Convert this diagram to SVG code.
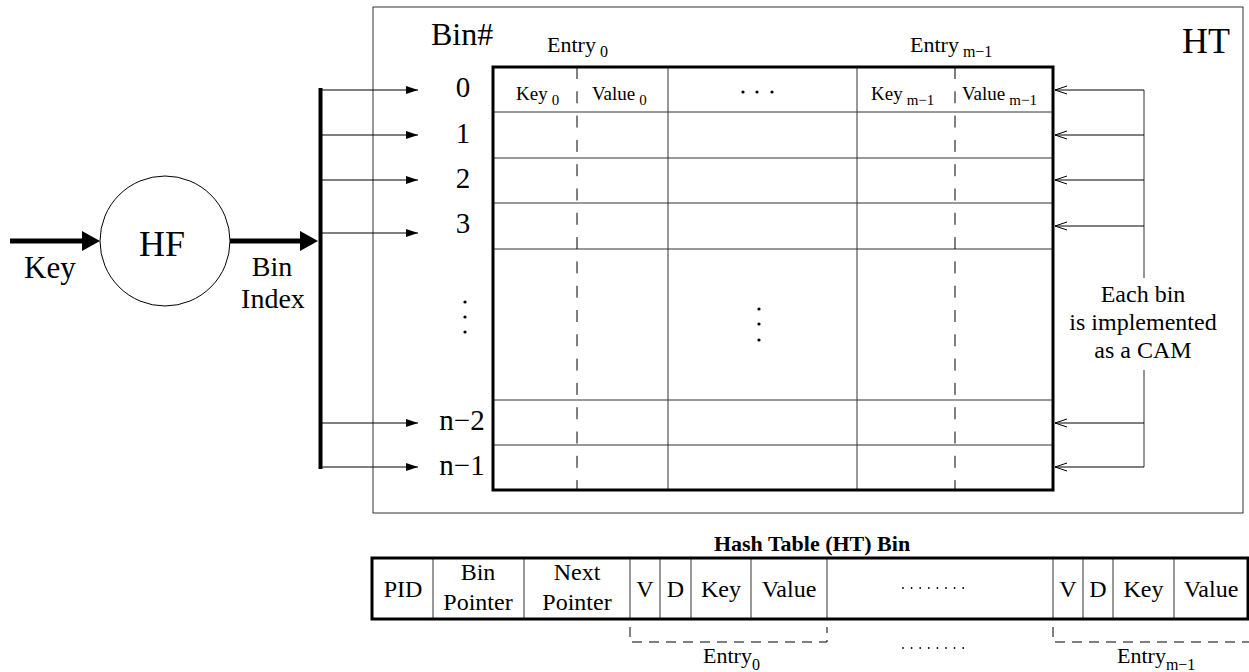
<svg xmlns="http://www.w3.org/2000/svg" width="1249" height="672" viewBox="0 0 1249 672" font-family="'Liberation Serif', 'Times New Roman', serif">
  <defs>
    <style>
      text { font-family: "Liberation Serif", "Times New Roman", serif; fill: #000; }
      .thin { stroke: #000; stroke-width: 1; fill: none; }
      .grid { stroke: #333; stroke-width: 1; fill: none; }
      .frame { stroke: #000; stroke-width: 3; fill: none; }
      .dash { stroke: #000; stroke-width: 1; stroke-dasharray: 12 12.3; fill: none; }
      .bdash { stroke: #000; stroke-width: 1; stroke-dasharray: 10 7; fill: none; }
      .bus { stroke: #000; stroke-width: 4; fill: none; }
      .fat { stroke: #000; stroke-width: 5; fill: none; }
      .dot { fill: #000; }
      .lbl { font-size: 31px; }
      .lbl2 { font-size: 28px; text-anchor: middle; }
      .num { font-size: 29px; text-anchor: middle; }
      .cell { font-size: 19px; }
      .sub { font-size: 15px; }
      .ent { font-size: 22px; }
      .esub { font-size: 16px; }
      .note { font-size: 24px; text-anchor: middle; }
      .fld { font-size: 24px; text-anchor: middle; }
      .title { font-size: 22px; font-weight: bold; text-anchor: middle; }
    </style>
    <marker id="ah" markerUnits="userSpaceOnUse" markerWidth="12" markerHeight="8" refX="12" refY="4" orient="auto">
      <path d="M0,0 L12,4 L0,8 z" fill="#000"/>
    </marker>
    <marker id="ahBig" markerUnits="userSpaceOnUse" markerWidth="18" markerHeight="20" refX="8" refY="10" orient="auto">
      <path d="M0,0 L18,10 L0,20 z" fill="#000"/>
    </marker>
    <marker id="ahOpen" markerUnits="userSpaceOnUse" markerWidth="14" markerHeight="10" refX="13" refY="5" orient="auto">
      <path d="M1,1 L13,5 L1,9" fill="none" stroke="#000" stroke-width="1"/>
    </marker>
  </defs>

  <rect width="1249" height="672" fill="#fff"/>

  <!-- hash table enclosure -->
  <g id="ht-box">
    <rect class="grid" x="373" y="7" width="870" height="506"/>
    <text x="1182" y="53" font-size="36">HT</text>
    <text x="431" y="45" font-size="32">Bin#</text>
    <text class="ent" x="547" y="52">Entry<tspan class="esub" dx="4" dy="5">0</tspan></text>
    <text class="ent" x="910" y="52">Entry<tspan class="esub" dx="4" dy="5">m−1</tspan></text>
  </g>

  <!-- bin array: n rows of m entries -->
  <g id="ht-table">
    <g class="grid">
      <line x1="493" y1="112" x2="1053" y2="112"/>
      <line x1="493" y1="158" x2="1053" y2="158"/>
      <line x1="493" y1="203" x2="1053" y2="203"/>
      <line x1="493" y1="249" x2="1053" y2="249"/>
      <line x1="493" y1="400" x2="1053" y2="400"/>
      <line x1="493" y1="445" x2="1053" y2="445"/>
      <line x1="668" y1="67" x2="668" y2="490"/>
      <line x1="857" y1="67" x2="857" y2="490"/>
    </g>
    <line class="dash" x1="577" y1="67" x2="577" y2="490"/>
    <line class="dash" x1="955" y1="67" x2="955" y2="490"/>
    <rect class="frame" x="493" y="67" width="560" height="423"/>
    <text class="cell" x="516" y="100">Key<tspan class="sub" dx="4" dy="5">0</tspan></text>
    <text class="cell" x="592" y="100">Value<tspan class="sub" dx="4" dy="5">0</tspan></text>
    <text class="cell" x="871" y="100">Key<tspan class="sub" dx="4" dy="5">m−1</tspan></text>
    <text class="cell" x="962" y="100">Value<tspan class="sub" dx="4" dy="5">m−1</tspan></text>
    <circle class="dot" cx="743" cy="92" r="1.6"/>
    <circle class="dot" cx="757" cy="92" r="1.6"/>
    <circle class="dot" cx="772" cy="92" r="1.6"/>
    <circle class="dot" cx="759" cy="309" r="1.6"/>
    <circle class="dot" cx="759" cy="324" r="1.6"/>
    <circle class="dot" cx="759" cy="340" r="1.6"/>
  </g>

  <!-- bin numbers -->
  <g id="bin-numbers">
    <text class="num" x="463" y="97">0</text>
    <text class="num" x="463" y="143">1</text>
    <text class="num" x="463" y="188">2</text>
    <text class="num" x="463" y="233">3</text>
    <circle class="dot" cx="465" cy="302" r="1.6"/>
    <circle class="dot" cx="465" cy="317" r="1.6"/>
    <circle class="dot" cx="465" cy="332" r="1.6"/>
    <text class="num" x="462" y="430">n−2</text>
    <text class="num" x="462" y="475">n−1</text>
  </g>

  <!-- hash function -->
  <g id="hf-node">
    <circle cx="165" cy="241" r="65" class="thin" fill="#fff"/>
    <text x="162" y="256" font-size="36" text-anchor="middle">HF</text>
  </g>

  <g id="key-label">
    <text class="lbl" x="24" y="278">Key</text>
  </g>

  <!-- two-line label under the index arrow -->
  <g id="bin-index-label">
    <text class="lbl2" x="272" y="276">Bin</text>
    <text class="lbl2" x="273" y="308">Index</text>
  </g>

  <g id="cam-note">
    <text class="note"><tspan x="1143" y="302">Each bin</tspan><tspan x="1143" y="330">is implemented</tspan><tspan x="1143" y="358">as a CAM</tspan></text>
  </g>

  <!-- connectors -->
  <g id="connectors">
    <line class="fat" x1="10" y1="241" x2="90" y2="241" marker-end="url(#ahBig)"/>
    <line class="fat" x1="230" y1="241" x2="308" y2="241" marker-end="url(#ahBig)"/>
    <line class="bus" x1="320.5" y1="88" x2="320.5" y2="469"/>
    <g class="thin" marker-end="url(#ah)">
      <line x1="322" y1="90" x2="418" y2="90"/>
      <line x1="322" y1="135" x2="418" y2="135"/>
      <line x1="322" y1="180" x2="418" y2="180"/>
      <line x1="322" y1="233" x2="418" y2="233"/>
      <line x1="322" y1="423" x2="418" y2="423"/>
      <line x1="322" y1="467" x2="418" y2="467"/>
    </g>
    <line class="grid" x1="1144" y1="90" x2="1144" y2="278"/>
    <line class="grid" x1="1144" y1="370" x2="1144" y2="467"/>
    <g class="thin" marker-end="url(#ahOpen)">
      <line x1="1144" y1="90" x2="1055" y2="90"/>
      <line x1="1144" y1="135" x2="1055" y2="135"/>
      <line x1="1144" y1="180" x2="1055" y2="180"/>
      <line x1="1144" y1="226" x2="1055" y2="226"/>
      <line x1="1144" y1="423" x2="1055" y2="423"/>
      <line x1="1144" y1="467" x2="1055" y2="467"/>
    </g>
  </g>

  <!-- layout of one bin -->
  <g id="bin-layout">
    <text class="title" x="812" y="551">Hash Table (HT) Bin</text>
    <g class="grid">
      <line x1="433" y1="558" x2="433" y2="619"/>
      <line x1="524" y1="558" x2="524" y2="619"/>
      <line x1="630" y1="558" x2="630" y2="619"/>
      <line x1="660" y1="558" x2="660" y2="619"/>
      <line x1="691" y1="558" x2="691" y2="619"/>
      <line x1="751" y1="558" x2="751" y2="619"/>
      <line x1="827" y1="558" x2="827" y2="619"/>
      <line x1="1053" y1="558" x2="1053" y2="619"/>
      <line x1="1083" y1="558" x2="1083" y2="619"/>
      <line x1="1113" y1="558" x2="1113" y2="619"/>
      <line x1="1174" y1="558" x2="1174" y2="619"/>
    </g>
    <rect class="frame" x="372" y="558" width="876" height="61"/>
    <text class="fld" x="403" y="597">PID</text>
    <text class="fld"><tspan x="478" y="580">Bin</tspan><tspan x="478" y="610">Pointer</tspan></text>
    <text class="fld"><tspan x="577" y="580">Next</tspan><tspan x="577" y="610">Pointer</tspan></text>
    <text class="fld" x="645" y="597">V</text>
    <text class="fld" x="675.5" y="597">D</text>
    <text class="fld" x="721" y="597">Key</text>
    <text class="fld" x="789" y="597">Value</text>
    <text class="fld" x="1068" y="597">V</text>
    <text class="fld" x="1098" y="597">D</text>
    <text class="fld" x="1143.5" y="597">Key</text>
    <text class="fld" x="1211" y="597">Value</text>
    <g class="dot">
      <circle cx="903" cy="588" r="0.9"/><circle cx="911.6" cy="588" r="0.9"/>
      <circle cx="920.2" cy="588" r="0.9"/><circle cx="928.8" cy="588" r="0.9"/>
      <circle cx="937.4" cy="588" r="0.9"/><circle cx="946" cy="588" r="0.9"/>
      <circle cx="954.6" cy="588" r="0.9"/><circle cx="963.2" cy="588" r="0.9"/>
      <circle cx="903" cy="648" r="0.9"/><circle cx="911.6" cy="648" r="0.9"/>
      <circle cx="920.2" cy="648" r="0.9"/><circle cx="928.8" cy="648" r="0.9"/>
      <circle cx="937.4" cy="648" r="0.9"/><circle cx="946" cy="648" r="0.9"/>
      <circle cx="954.6" cy="648" r="0.9"/><circle cx="963.2" cy="648" r="0.9"/>
    </g>
    <path class="bdash" d="M630,627 V642 H827 V627"/>
    <path class="bdash" d="M1053,627 V642 H1249"/>
    <text x="703" y="663" font-size="22">Entry<tspan font-size="16" dy="7">0</tspan></text>
    <text x="1117" y="663" font-size="22">Entry<tspan font-size="16" dy="7">m−1</tspan></text>
  </g>
</svg>
